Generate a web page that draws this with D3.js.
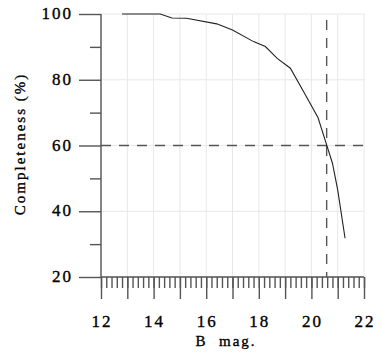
<!DOCTYPE html>
<html>
<head>
<meta charset="utf-8">
<script src="https://cdn.jsdelivr.net/npm/d3@7"></script>
<style>
  body { margin: 0; background: #fff; }
</style>
</head>
<body>
<div id="chart"></div>
<script>
// completeness curve
const bMag = [12.8, 14.25, 14.7, 15.25, 16.4, 17.0, 17.8, 18.25, 18.7, 19.2, 19.7, 20.25, 20.58, 20.8, 21.0, 21.28];
const completeness = [100, 100, 98.8, 98.7, 97, 95.1, 91.6, 90.1, 86.5, 83.5, 76.4, 68.5, 60.2, 54.6, 46.5, 31.8];

const xLabels = [12, 14, 16, 18, 20, 22];
const yLabels = [20, 40, 60, 80, 100];
const limitMag = 20.58;
const limitComp = 60;

const width = 382, height = 358;
const plotL = 101, plotR = 364, plotT = 14, plotB = 277;
const serif = "Liberation Serif, Times New Roman, serif";

const x = d3.scaleLinear().domain([12, 22]).range([plotL, plotR]);
const y = d3.scaleLinear().domain([20, 100]).range([plotB, plotT]);

const svg = d3.select("#chart").append("svg")
  .attr("width", width)
  .attr("height", height)
  .attr("font-family", serif);

// light grid
svg.append("g").selectAll("line")
  .data(d3.range(12, 23))
  .enter().append("line")
  .attr("x1", d => x(d)).attr("x2", d => x(d))
  .attr("y1", plotT).attr("y2", plotB)
  .attr("stroke", "#e8e8e8");

svg.append("g").selectAll("line")
  .data(yLabels)
  .enter().append("line")
  .attr("x1", plotL).attr("x2", plotR)
  .attr("y1", d => y(d)).attr("y2", d => y(d))
  .attr("stroke", "#e8e8e8");

// axes: ticks only, labels drawn separately
const axisColor = "#555";
function styleAxis(g) {
  g.select(".domain").remove();
  g.selectAll("text").remove();
  g.selectAll("line").attr("stroke", axisColor).attr("stroke-width", 1.4);
}

svg.append("g")
  .attr("transform", `translate(0,${plotB})`)
  .call(d3.axisBottom(x).tickValues(d3.range(12, 22.01, 0.2)).tickSize(11))
  .call(styleAxis);

svg.append("g")
  .attr("transform", `translate(0,${plotB})`)
  .call(d3.axisBottom(x).tickValues(d3.range(12, 23)).tickSize(22))
  .call(styleAxis);

svg.append("g")
  .attr("transform", `translate(${plotL},0)`)
  .call(d3.axisLeft(y).tickValues([30, 50, 70, 90]).tickSize(11))
  .call(styleAxis);

svg.append("g")
  .attr("transform", `translate(${plotL},0)`)
  .call(d3.axisLeft(y).tickValues(yLabels).tickSize(22))
  .call(styleAxis);

// axis lines
svg.append("line")
  .attr("x1", plotL).attr("x2", plotR)
  .attr("y1", plotB).attr("y2", plotB)
  .attr("stroke", axisColor).attr("stroke-width", 1.4);
svg.append("line")
  .attr("x1", plotL).attr("x2", plotL)
  .attr("y1", plotT).attr("y2", plotB)
  .attr("stroke", axisColor).attr("stroke-width", 1.4);

// text is a little heavier in the original, add a thin outline
function ink(sel) {
  sel.attr("fill", "#000").attr("stroke", "#000").attr("stroke-width", 0.35);
}

// tick labels
svg.selectAll(".xl")
  .data(xLabels)
  .enter().append("text")
  .attr("x", d => x(d) + 1)
  .attr("y", 327)
  .attr("text-anchor", "middle")
  .attr("font-size", 17)
  .attr("letter-spacing", 2)
  .call(ink)
  .text(d => d);

svg.selectAll(".yl")
  .data(yLabels)
  .enter().append("text")
  .attr("x", 73)
  .attr("y", d => y(d) + 5)
  .attr("text-anchor", "end")
  .attr("font-size", 17)
  .attr("letter-spacing", 2)
  .call(ink)
  .text(d => d);

// axis titles
svg.append("text")
  .attr("x", 226)
  .attr("y", 346)
  .attr("text-anchor", "middle")
  .attr("font-size", 15)
  .attr("letter-spacing", 2)
  .style("white-space", "pre")
  .call(ink)
  .text("B  mag.");

svg.append("text")
  .attr("transform", "translate(25,144) rotate(-90)")
  .attr("text-anchor", "middle")
  .attr("font-size", 15)
  .attr("letter-spacing", 2)
  .call(ink)
  .text("Completeness (%)");

// dashed limit lines
svg.append("line")
  .attr("x1", plotL).attr("x2", plotR)
  .attr("y1", y(limitComp)).attr("y2", y(limitComp))
  .attr("stroke", "#555").attr("stroke-width", 1.4)
  .attr("stroke-dasharray", "10,8");

svg.append("line")
  .attr("x1", x(limitMag)).attr("x2", x(limitMag))
  .attr("y1", plotT + 6).attr("y2", plotB)
  .attr("stroke", "#555").attr("stroke-width", 1.4)
  .attr("stroke-dasharray", "10,8");

// completeness curve
const pts = bMag.map((m, i) => [m, completeness[i]]);
svg.append("path")
  .datum(pts)
  .attr("fill", "none")
  .attr("stroke", "#222")
  .attr("stroke-width", 1.1)
  .attr("d", d3.line().x(d => x(d[0])).y(d => y(d[1])));
</script>
</body>
</html>
